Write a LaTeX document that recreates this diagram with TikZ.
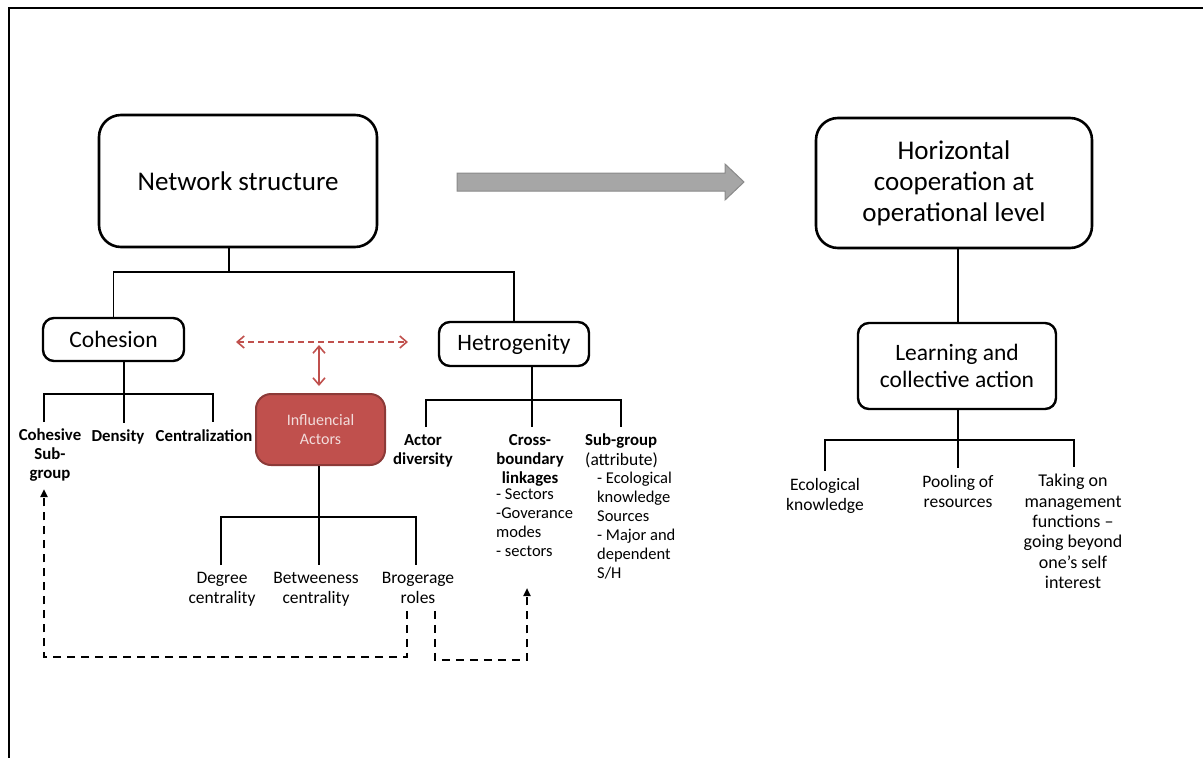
\documentclass[tikz,border=0pt]{standalone}
\usepackage{fontspec}
\setmainfont{Carlito}
\usetikzlibrary{arrows.meta,positioning}
\definecolor{accred}{HTML}{C0504D}
\definecolor{accredd}{HTML}{8C3A38}
\definecolor{acctxt}{HTML}{F2DCDB}
\definecolor{flowgray}{HTML}{A6A6A6}
\definecolor{flowedge}{HTML}{8A8A8A}
\tikzset{bigbox/.style={draw,line width=2.6pt,rounded corners=22pt,align=center,
    font=\fontsize{27}{31}\selectfont}}
\tikzset{midbox/.style={draw,line width=2.4pt,rounded corners=11pt,align=center,
    font=\fontsize{23.5}{27}\selectfont}}
\tikzset{leaf/.style={align=center,font=\fontsize{17.5}{20}\selectfont,inner xsep=2pt,inner ysep=7pt}}
\tikzset{boldleaf/.style={leaf,font=\fontsize{16.8}{19}\selectfont\bfseries}}
\tikzset{tree/.style={line width=1.4pt}}
\tikzset{link/.style={line width=2pt,dash pattern=on 8pt off 6pt,-{Triangle[length=8pt,width=7pt]}}}
\tikzset{redlink/.style={accred,line width=1.6pt,{Straight Barb[length=7pt,width=12pt]}-{Straight Barb[length=7pt,width=12pt]}}}

\begin{document}
\begin{tikzpicture}[x=1pt,y=-1pt]
\useasboundingbox (0,0) rectangle (1203,758);
\draw[line width=2pt] (9,758) -- (9,8) -- (1203,8);

% main boxes
\node[bigbox,minimum width=278pt,minimum height=132pt] (ns) at (238,181) {Network structure};
\node[bigbox,minimum width=276pt,minimum height=130pt] (hc) at (954,183) {Horizontal\\cooperation at\\operational level};
\node[midbox,minimum width=198pt,minimum height=86pt] (lca) at (957,366) {Learning and\\collective action};
\node[midbox,minimum width=141pt,minimum height=43pt] (coh) at (113.5,339.5) {Cohesion};
\node[midbox,minimum width=150pt,minimum height=44pt] (het) at (514,344) {Hetrogenity};
\node[draw=accredd,fill=accred,text=acctxt,line width=2pt,rounded corners=15pt,align=center,
    minimum width=129pt,minimum height=71pt,font=\fontsize{16}{19}\selectfont] (ia) at (320.5,429.5) {Influencial\\Actors};

% block arrow
\draw[flowedge,fill=flowgray,line width=1pt] (457,173) -- (725,173) -- (725,164) -- (744,182)
    -- (725,200) -- (725,191) -- (457,191) -- cycle;

% leaves
\node[boldleaf,anchor=north] (csub) at (50,422) {Cohesive\\Sub-\\group};
\node[boldleaf,anchor=north] (dens) at (118,423) {Density};
\node[boldleaf,anchor=north] (cent) at (204,422) {Centralization};
\node[boldleaf,anchor=north] (actd) at (423,427) {Actor\\diversity};
\node[boldleaf,anchor=north] (crossb) at (530,427) {Cross-\\boundary\\linkages};
\node[leaf,align=left,anchor=north west,inner ysep=2pt,font=\fontsize{16.5}{18.7}\selectfont] (crossl) at (494,487) {- Sectors\\-Goverance\\modes\\- sectors};
\node[leaf,align=left,anchor=north west,inner ysep=7pt] (subg) at (583,427) {\fontsize{16.8}{19}\selectfont\bfseries Sub-group\\(attribute)};
\node[leaf,align=left,anchor=north west,inner ysep=2pt,font=\fontsize{16.5}{19}\selectfont] (subl) at (595,470) {- Ecological\\knowledge\\Sources\\- Major and\\dependent\\S/H};
\node[leaf,anchor=north] (deg) at (222,565) {Degree\\centrality};
\node[leaf,anchor=north] (betw) at (316,565) {Betweeness\\centrality};
\node[leaf,anchor=north] (brog) at (418,565) {Brogerage\\roles};
\node[leaf,anchor=north] (eco) at (825,471) {Ecological\\knowledge};
\node[leaf,anchor=north] (pool) at (958,468) {Pooling of\\resources};
\node[leaf,anchor=north,font=\fontsize{18}{20.4}\selectfont] (take) at (1073,467) {Taking on\\management\\functions --\\going beyond\\one’s self\\interest};

% tree lines
\coordinate (nsj) at (229,272);
\draw[tree] (ns.south -| nsj) -- (nsj);
\draw[tree] (coh.north) |- (nsj) -| (het.north);

\coordinate (cj) at (124,394);
\coordinate (cl) at (44,394);
\coordinate (cr) at (213,394);
\draw[tree] (coh.south -| cj) -- (cj);
\draw[tree] (csub.north -| cl) |- (cj) -| (cent.north -| cr);
\draw[tree] (cj) -- (cj |- dens.north);

\coordinate (hj) at (532,400);
\coordinate (hl) at (426,400);
\coordinate (hr) at (621,400);
\draw[tree] (het.south -| hj) -- (hj);
\draw[tree] (actd.north -| hl) |- (hj) -| (subg.north -| hr);
\draw[tree] (hj) -- (hj |- crossb.north);

\coordinate (ij) at (319,517);
\coordinate (il) at (221,517);
\coordinate (ir) at (416,517);
\draw[tree] (ia.south -| ij) -- (ij);
\draw[tree] (deg.north -| il) |- (ij) -| (brog.north -| ir);
\draw[tree] (ij) -- (ij |- betw.north);

\coordinate (lj) at (958,440);
\coordinate (ll) at (825,440);
\coordinate (lr) at (1074,440);
\draw[tree] (hc.south -| lj) -- (lca.north -| lj);
\draw[tree] (lca.south -| lj) -- (lj);
\draw[tree] (eco.north -| ll) |- (lj) -| (take.north -| lr);
\draw[tree] (lj) -- (lj |- pool.north);

% influence arrows
\coordinate (rl) at (236,342);
\coordinate (rr) at (408,342);
\coordinate (rt) at (319,345);
\coordinate (rb) at (319,386);
\draw[redlink,dash pattern=on 6pt off 4pt] (rl) -- (rr);
\draw[redlink] (rt) -- (rb);

% brokerage links
\coordinate (d1) at (407,657);
\coordinate (d2) at (44,657);
\coordinate (d3) at (435,660);
\coordinate (d4) at (527,660);
\coordinate (d5) at (527,588);
\draw[link] (brog.south -| d1) -- (d1) -- (d2) -- (d2 |- csub.south);
\draw[link] (brog.south -| d3) -- (d3) -- (d4) -- (d5);
\end{tikzpicture}
\end{document}
